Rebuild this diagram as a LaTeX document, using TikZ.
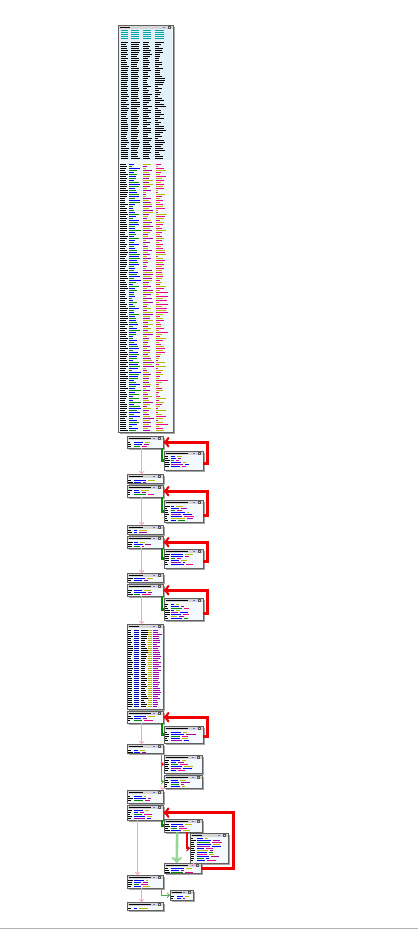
\documentclass[tikz,border=0pt]{standalone}
\usepackage{tikz}
\usetikzlibrary{shadows}

\definecolor{idatitle}{RGB}{214,214,214}
\definecolor{idabody}{RGB}{244,249,253}
\definecolor{idasky}{RGB}{226,240,250}
\definecolor{idaolive}{RGB}{185,185,0}
\definecolor{idapurple}{RGB}{165,0,165}
\definecolor{idateal}{RGB}{0,165,165}
\definecolor{idanavy}{RGB}{0,0,170}
\definecolor{idapink}{RGB}{255,160,180}
\definecolor{idared}{RGB}{240,0,0}
\definecolor{idagreen}{RGB}{0,140,0}
\definecolor{idamint}{RGB}{150,215,150}

% rows of a small block, kept on even pixel rows
\newcommand{\asmrows}[3]{%
  \path (#1.north west); \pgfgetlastxy{\nx}{\ny}
  \pgfmathtruncatemacro\odd{mod(round(abs(\ny)/1.00375),2)}
  \foreach \i/\ca/\cb in {1/blue/idaolive, 2/blue/idapurple, 3/idagreen/magenta,
      4/blue/idaolive, 5/idapurple/blue, 6/blue/magenta, 7/idaolive/idapurple,
      8/blue/idagreen, 9/magenta/idaolive, 10/blue/idapurple, 11/idagreen/blue,
      12/blue/magenta}{
    \ifnum\i>#2\relax\else
    \pgfmathsetmacro\yy{4.5-\odd+2*\i}
    \pgfmathsetmacro\la{2+3*rnd}
    \pgfmathsetmacro\lb{3+(#3-16)*0.5*rnd}
    \pgfmathsetmacro\lc{2+(#3-16)*0.35*rnd}
    \pgfmathsetmacro\xc{9+\lb}
    \draw[asm] ([xshift=1bp,yshift=-\yy bp]#1.north west) -- ++(\la,0);
    \draw[asm,color=\ca] ([xshift=7bp,yshift=-\yy bp]#1.north west) -- ++(\lb,0);
    \draw[asm,color=\cb] ([xshift=\xc bp,yshift=-\yy bp]#1.north west) -- ++(\lc,0);
    \fi
  }}

\begin{document}
\begin{tikzpicture}[x=1bp, y=-1bp,
  blk/.style={draw=gray!75!black, line width=0.4bp, fill=idabody, inner sep=0pt,
    anchor=north west,
    drop shadow={shadow xshift=2bp, shadow yshift=-2bp, fill=gray, opacity=0.7},
    path picture={
      \fill[idatitle] (path picture bounding box.north west) rectangle
        ([yshift=-4bp]path picture bounding box.north east);
      \draw[black, line width=1bp] ([xshift=1.5bp,yshift=-2.5bp]path picture bounding box.north west) -- ++(#1bp,0);
      \fill[blue!60] ([xshift=-10bp,yshift=-1.5bp]path picture bounding box.north east) rectangle ++(2bp,-1bp);
      \draw[gray!70!black, line width=0.3bp] ([xshift=-5bp,yshift=-1bp]path picture bounding box.north east) rectangle ++(2bp,-2bp);
    }},
  blk/.default=22,
  asm/.style={line width=1bp},
  seq/.style={draw=idapink, line width=1bp, ->},
  loopback/.style={draw=idared, line width=2.6bp, ->},
  taken/.style={draw=idagreen, line width=2.6bp},
  takenthin/.style={draw=idagreen!70, line width=1bp, ->},
  nottaken/.style={draw=idared, line width=1bp, ->},
  loopin/.style={draw=idamint, line width=2.6bp, ->}]

\path[use as bounding box, fill=white] (0,0) rectangle (418,932);
\pgfmathsetseed{11}

% blocks
\node[blk=10, minimum width=55bp, minimum height=407bp] (A) at (118,25) {};

\node[blk, minimum width=36bp, minimum height=12bp] (L1) at (127,436) {};
\node[blk, minimum width=39bp, minimum height=19bp] (B1) at (164,451) {};
\node[blk=14, minimum width=36bp, minimum height=9bp] (C1) at (127,474) {};
\node[blk, minimum width=36bp, minimum height=12bp] (L2) at (127,485) {};
\node[blk, minimum width=39bp, minimum height=22bp] (B2) at (164,500) {};
\node[blk=14, minimum width=36bp, minimum height=9bp] (C2) at (127,525) {};
\node[blk, minimum width=36bp, minimum height=12bp] (L3) at (127,536) {};
\node[blk, minimum width=39bp, minimum height=19bp] (B3) at (164,549) {};
\node[blk=14, minimum width=36bp, minimum height=9bp] (C3) at (127,573) {};
\node[blk, minimum width=36bp, minimum height=12bp] (L4) at (127,584) {};
\node[blk, minimum width=39bp, minimum height=22bp] (B4) at (164,598) {};
\node[blk=10, minimum width=36bp, minimum height=85bp] (D) at (127,624) {};
\node[blk, minimum width=36bp, minimum height=12bp] (L5) at (127,711) {};
\node[blk, minimum width=39bp, minimum height=17bp] (B5) at (164,726) {};
\node[blk=14, minimum width=36bp, minimum height=9bp] (C4) at (127,744) {};
\node[blk, minimum width=38bp, minimum height=18bp] (E1) at (164,755) {};
\node[blk, minimum width=38bp, minimum height=13bp] (E2) at (164,775) {};
\node[blk=14, minimum width=36bp, minimum height=13bp] (F1) at (127,790) {};
\node[blk, minimum width=36bp, minimum height=15bp] (F2) at (127,805) {};
\node[blk, minimum width=38bp, minimum height=13bp] (G1) at (164,819) {};
\node[blk=10, minimum width=38bp, minimum height=30bp] (G2) at (190,833) {};
\node[blk, minimum width=37bp, minimum height=10bp] (G3) at (164,863) {};
\node[blk, minimum width=36bp, minimum height=13bp] (H1) at (127,875) {};
\node[blk=10, minimum width=23bp, minimum height=10bp] (H2) at (170,890) {};
\node[blk, minimum width=36bp, minimum height=8bp] (H3) at (127,902) {};

% listing of the first block
\fill[idasky] (119,29) rectangle (172,160);
\foreach \y in {30.5,32.5,...,38.5}{
  \draw[asm, idateal] (121,\y) -- ++(7,0);
  \draw[asm, idateal] (131,\y) -- ++(8,0);
  \draw[asm, idateal] (143,\y) -- ++(8,0);
  \draw[asm, idateal] (155,\y) -- ++(9,0);
}
\foreach \y in {42.5,44.5,...,158.5}{
  \pgfmathsetmacro\la{5+3*rnd}
  \pgfmathsetmacro\lb{6+3*rnd}
  \pgfmathsetmacro\lc{4+5*rnd}
  \pgfmathsetmacro\ld{3+8*rnd}
  \draw[asm] (121,\y) -- ++(\la,0);
  \draw[asm] (131,\y) -- ++(\lb,0);
  \draw[asm] (143,\y) -- ++(\lc,0);
  \draw[asm] (155,\y) -- ++(\ld,0);
}
\foreach \y in {164.5,168.5,...,428.5}{
  \pgfmathsetmacro\la{5+3*rnd}
  \pgfmathsetmacro\lb{4+8*rnd}
  \pgfmathsetmacro\lc{3+8*rnd}
  \pgfmathsetmacro\ld{2+10*rnd}
  \draw[asm] (120,\y) -- ++(\la,0);
  \draw[asm, blue] (129,\y) -- ++(\lb,0);
  \draw[asm, idaolive] (143,\y) -- ++(\lc,0);
  \draw[asm, magenta] (156,\y) -- ++(\ld,0);
}
\foreach \y in {166.5,170.5,...,430.5}{
  \pgfmathsetmacro\la{5+3*rnd}
  \pgfmathsetmacro\lb{3+9*rnd}
  \pgfmathsetmacro\lc{3+8*rnd}
  \pgfmathsetmacro\ld{2+9*rnd}
  \draw[asm] (120,\y) -- ++(\la,0);
  \draw[asm, idagreen] (129,\y) -- ++(\lb,0);
  \draw[asm, idapurple] (143,\y) -- ++(\lc,0);
  \draw[asm, idaolive] (156,\y) -- ++(\ld,0);
}

% listing of the long block
\foreach \y in {630.5,632.5,...,706.5}{
  \pgfmathsetmacro\la{3+2*rnd}
  \pgfmathsetmacro\lb{3+4*rnd}
  \pgfmathsetmacro\lc{4+5*rnd}
  \draw[asm] (128,\y) -- ++(\la,0);
  \draw[asm, idanavy] (134,\y) -- ++(5,0);
  \draw[asm] (141,\y) -- ++(\lb,0);
  \draw[asm, idaolive] (148,\y) -- ++(4,0);
  \draw[asm, idapurple] (153,\y) -- ++(\lc,0);
}

% listings of the small blocks
\asmrows{L1}{3}{36}
\asmrows{B1}{6}{39}
\asmrows{C1}{2}{36}
\asmrows{L2}{3}{36}
\asmrows{B2}{8}{39}
\asmrows{C2}{2}{36}
\asmrows{L3}{3}{36}
\asmrows{B3}{6}{39}
\asmrows{C3}{2}{36}
\asmrows{L4}{3}{36}
\asmrows{B4}{8}{39}
\asmrows{L5}{3}{36}
\asmrows{B5}{5}{39}
\asmrows{C4}{2}{36}
\asmrows{E1}{6}{38}
\asmrows{E2}{4}{38}
\asmrows{F1}{3}{36}
\asmrows{F2}{5}{36}
\asmrows{G1}{4}{38}
\asmrows{G2}{12}{38}
\asmrows{G3}{3}{37}
\asmrows{H1}{4}{36}
\asmrows{H2}{2}{23}
\asmrows{H3}{1}{36}

% edges
\draw[seq] ([xshift=-3.5bp]L1.south) -- ([xshift=-3.5bp]C1.north);
\draw[seq] ([xshift=-3.5bp]L2.south) -- ([xshift=-3.5bp]C2.north);
\draw[seq] ([xshift=-3.5bp]L3.south) -- ([xshift=-3.5bp]C3.north);
\draw[seq] ([xshift=-3.5bp]L4.south) -- ([xshift=-3.5bp]D.north);
\draw[seq] ([xshift=-3.5bp]L5.south) -- ([xshift=-3.5bp]C4.north);

\draw[taken] ([xshift=-1.5bp]L1.south east) |- (B1.west);
\draw[taken] ([xshift=-1.5bp]L2.south east) |- (B2.west);
\draw[taken] ([xshift=-1.5bp]L3.south east) |- (B3.west);
\draw[taken] ([xshift=-1.5bp]L4.south east) |- (B4.west);
\draw[taken] ([xshift=-1.5bp]L5.south east) |- (B5.west);

\draw[loopback] ([yshift=7bp]B1.south east) -- ++(4bp,0) |- (L1.east);
\draw[loopback] ([yshift=7bp]B2.south east) -- ++(4bp,0) |- (L2.east);
\draw[loopback] ([yshift=7bp]B3.south east) -- ++(4bp,0) |- (L3.east);
\draw[loopback] ([yshift=7bp]B4.south east) -- ++(4bp,0) |- (L4.east);
\draw[loopback] ([yshift=7bp]B5.south east) -- ++(4bp,0) |- (L5.east);

\draw[nottaken] ([xshift=-1.5bp]C4.south east) |- (E1.west);
\draw[takenthin] ([xshift=-1.5bp]C4.south east) |- (E2.west);
\draw[seq] ([xshift=-1.5bp]E2.south west) -- ([xshift=-1.5bp]F1.north east);

\draw[taken] ([xshift=-1.5bp]F2.south east) |- (G1.west);
\draw[loopback, line width=1.4bp] ([xshift=-15.5bp]G1.south east) |- (G2.west);
\draw[loopin] ([xshift=-6bp]G1.south) -- ([xshift=-6bp]G3.north);
\draw[seq] ([xshift=3.5bp]G2.south west) -- ([xshift=29.5bp]G3.north west);
\draw[loopback] (G3.east) -- ++(32bp,0) |- (F2.east);

\draw[seq] ([xshift=-7.5bp]F2.south) -- ([xshift=-7.5bp]H1.north);
\draw[takenthin] ([xshift=-1.5bp]H1.south east) |- (H2.west);
\draw[seq] ([xshift=-3.5bp]H1.south) -- ([xshift=-3.5bp]H3.north);

\draw[gray!60, line width=0.6bp] (0,928) -- (418,928);

\end{tikzpicture}
\end{document}
